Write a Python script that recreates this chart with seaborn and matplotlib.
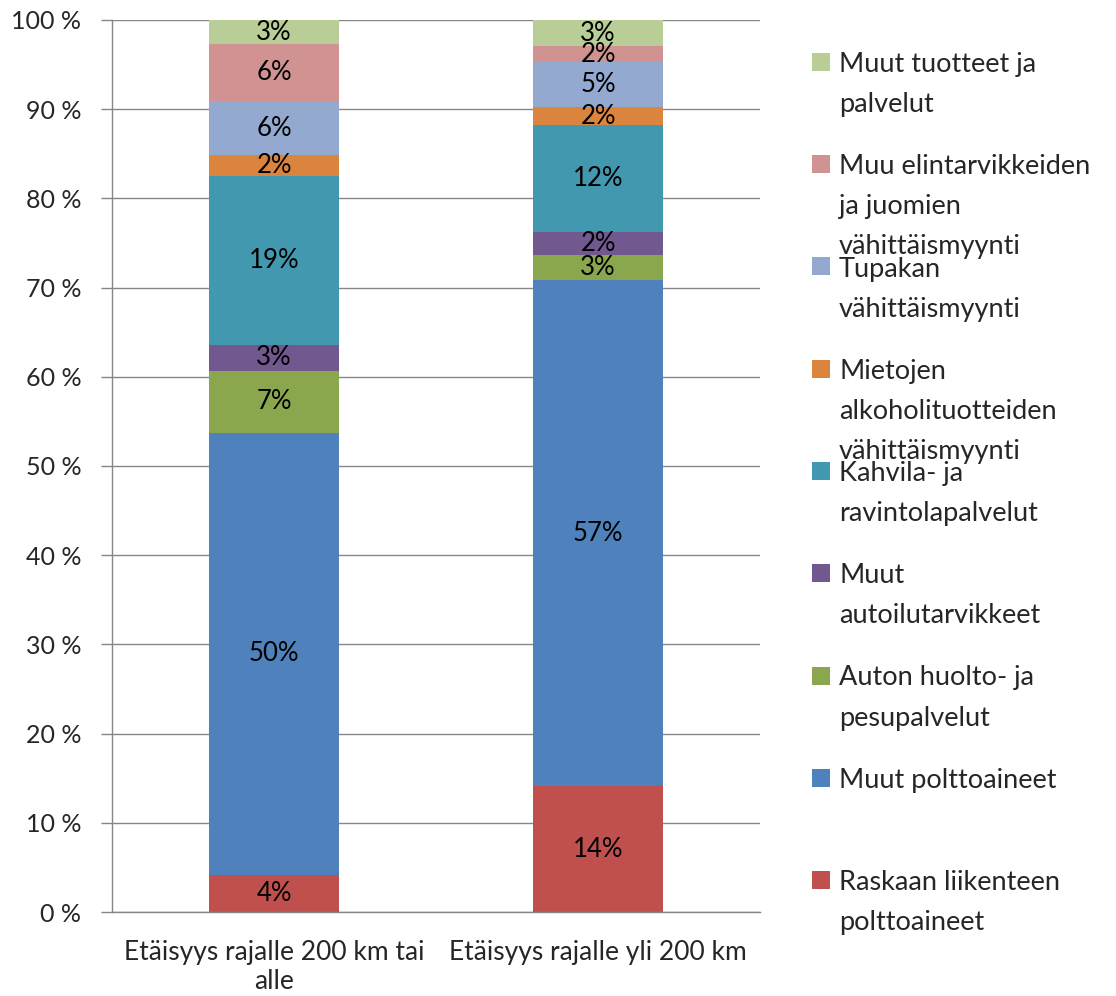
import matplotlib
matplotlib.use('Agg')
import matplotlib.pyplot as plt
from matplotlib.patches import Rectangle
import numpy as np
import pandas as pd
import seaborn as sns

# data (percent shares, stacked bottom -> top)
categories = ['Etäisyys rajalle 200 km tai\nalle', 'Etäisyys rajalle yli 200 km']
series = ['Raskaan liikenteen polttoaineet', 'Muut polttoaineet', 'Auton huolto- ja pesupalvelut',
          'Muut autoilutarvikkeet', 'Kahvila- ja ravintolapalvelut',
          'Mietojen alkoholituotteiden vähittäismyynti', 'Tupakan vähittäismyynti',
          'Muu elintarvikkeiden ja juomien vähittäismyynti', 'Muut tuotteet ja palvelut']
near = [4.15, 49.55, 6.95, 2.95, 18.9, 2.35, 6.05, 6.4, 2.7]
far = [14.1, 56.7, 2.9, 2.5, 12.0, 2.0, 5.05, 1.8, 2.95]
legend_lines = [['Raskaan liikenteen', 'polttoaineet'], ['Muut polttoaineet'],
                ['Auton huolto- ja', 'pesupalvelut'], ['Muut', 'autoilutarvikkeet'],
                ['Kahvila- ja', 'ravintolapalvelut'],
                ['Mietojen', 'alkoholituotteiden', 'vähittäismyynti'],
                ['Tupakan', 'vähittäismyynti'],
                ['Muu elintarvikkeiden', 'ja juomien', 'vähittäismyynti'],
                ['Muut tuotteet ja', 'palvelut']]
colors = ['#C0504D', '#4F81BD', '#8BA74D', '#71588F', '#4298AF',
          '#DB843D', '#94A9D0', '#D19392', '#B9CD96']
yticks = [0, 10, 20, 30, 40, 50, 60, 70, 80, 90, 100]

sns.set_style('white')
plt.rcParams['font.family'] = ['Lato', 'DejaVu Sans']

W, H = 1116, 996
fig = plt.figure(figsize=(W / 100, H / 100), dpi=100)
ax = fig.add_axes([112 / W, 1 - 912 / H, 648 / W, 892 / H])

df = pd.DataFrame({'cat': np.repeat(categories, len(series)),
                   'series': series * 2,
                   'value': near + far})
df['cum'] = df.groupby('cat', sort=False)['value'].cumsum()
df['mid'] = df['cum'] - df['value'] / 2

# draw cumulative bars from the top layer down so each lower one covers the next
for s, c in reversed(list(zip(series, colors))):
    sub = df[df['series'] == s]
    sns.barplot(data=sub, x='cat', y='cum', order=categories, color=c, saturation=1,
                width=0.4, errorbar=None, linewidth=0, ax=ax, zorder=2)

for i, cat in enumerate(categories):
    sub = df[df['cat'] == cat]
    for _, r in sub.iterrows():
        ax.text(i, r['mid'], f"{r['value']:.0f}%", ha='center', va='center',
                fontsize=18.5, color='black', zorder=3)

ax.set_xlim(-0.5, 1.5)
ax.set_ylim(0, 100)
ax.set_yticks(yticks)
ax.set_yticklabels([f'{t} %' for t in yticks])
ax.set_xticks([0, 1])
ax.set_xticklabels(categories, linespacing=1.2)
ax.set_xticks([-0.5, 0.5, 1.5], minor=True)
ax.tick_params(axis='x', which='major', length=0, pad=20, labelsize=19)
ax.tick_params(axis='x', which='minor', length=8, width=1, color='#868686', direction='out')
ax.tick_params(axis='y', length=8, width=1, color='#868686', direction='out', pad=14,
               labelsize=18, left=True)
ax.set_xlabel('')
ax.set_ylabel('')
ax.yaxis.grid(True, color='#868686', linewidth=1)
ax.set_axisbelow(True)
for side in ['top', 'right']:
    ax.spines[side].set_visible(False)
for side in ['left', 'bottom']:
    ax.spines[side].set_color('#868686')
    ax.spines[side].set_linewidth(1)

# legend, Excel style: fixed slots, top entry = top series
for k, idx in enumerate(reversed(range(len(series)))):
    yc = 62 + 102.25 * k
    fig.add_artist(Rectangle((812 / W, 1 - (yc + 9) / H), 18 / W, 18 / H,
                             transform=fig.transFigure, facecolor=colors[idx],
                             edgecolor='none'))
    for j, line in enumerate(legend_lines[idx]):
        fig.text(839 / W, 1 - (yc + 40 * j) / H, line, fontsize=19.5,
                 ha='left', va='center_baseline')

fig.savefig('out.png', dpi=100)
